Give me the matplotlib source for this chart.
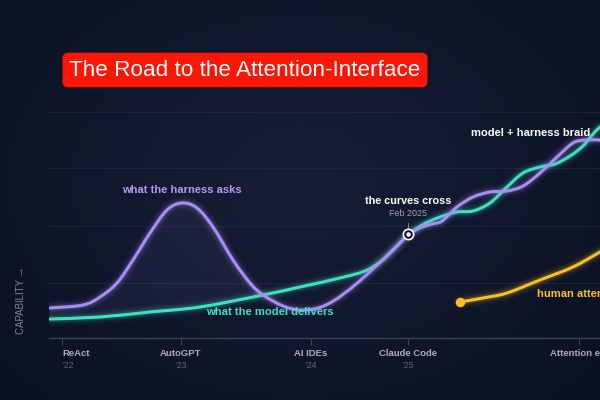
import numpy as np
import matplotlib
matplotlib.use("Agg")
import matplotlib.pyplot as plt
from matplotlib.path import Path
from matplotlib.patches import PathPatch

plt.rcParams['font.family'] = ['Liberation Sans', 'DejaVu Sans']

# ---- data (timeline position, capability) ----
model_t = [50, 100, 150, 200, 263, 300, 340, 365, 380, 393, 408, 424, 440, 457, 473,
           490, 507, 523, 540, 555, 570, 583, 593, 600]
model_cap = [19, 21, 26, 31, 43, 51, 60, 67, 76, 88, 103, 114, 121, 126, 127,
             135, 151, 165, 171, 174, 182, 192, 204, 211]

harness_t = [50, 83, 100, 117, 133, 150, 167, 182, 197, 213, 233, 250, 263, 283, 300,
             318, 335, 355, 375, 392, 408, 420, 432, 442, 457, 473, 490, 507, 523, 540,
             557, 573, 585, 600]
harness_cap = [30, 33, 41, 55, 78, 105, 128, 135, 130, 111, 78, 55, 43, 32, 28,
               30, 38, 53, 71, 87, 103, 110, 114, 117, 131, 141, 146, 147, 152, 165,
               181, 195, 198, 198]

attention_t = [460, 483, 507, 540, 573, 600]
attention_cap = [36, 40, 45, 58, 71, 86]

tick_pos = [62, 181, 311, 408, 579]
tick_names = ["ReAct", "AutoGPT", "AI IDEs", "Claude Code", "Attention era"]
tick_years = ["'22", "'23", "'24", "'25", ""]

cross_t, cross_cap = 408, 104

BG = "#0f1629"
TEAL = "#3fe0c2"
PURPLE = "#a98cf6"
YELLOW = "#fbbf24"

fig = plt.figure(figsize=(6, 4), dpi=100)
fig.patch.set_facecolor(BG)

# vignette background
bg = fig.add_axes([0, 0, 1, 1])
yy, xx = np.mgrid[0:200, 0:300]
r = np.sqrt(((xx - 150) / 150) ** 2 + ((yy - 90) / 110) ** 2)
c0 = np.array([0x16, 0x1e, 0x36]) / 255
c1 = np.array([0x0b, 0x11, 0x22]) / 255
w = np.clip(r / 1.4, 0, 1)[..., None]
bg.imshow(c0 * (1 - w) + c1 * w, aspect='auto', extent=[0, 1, 0, 1])
bg.axis('off')

ax = fig.add_axes([49 / 600, 62 / 400, 551 / 600, 338 / 400])
ax.set_facecolor('none')
ax.set_xlim(49, 600)
ax.set_ylim(0, 338)

# grid
for gy in [55, 112, 170, 226]:
    ax.axhline(gy, color="#1f2840", lw=0.6, zorder=0)


def smooth_path(xs, ys):
    """Catmull-Rom curve through the points, drawn as cubic Bezier segments."""
    P = np.column_stack([xs, ys]).astype(float)
    n = len(P)
    verts = [P[0]]
    codes = [Path.MOVETO]
    for i in range(n - 1):
        p0 = P[i - 1] if i > 0 else P[i]
        p1 = P[i]
        p2 = P[i + 1]
        p3 = P[i + 2] if i + 2 < n else P[i + 1]
        c1 = p1 + (p2 - p0) / 6.0
        c2 = p2 - (p3 - p1) / 6.0
        verts += [c1, c2, p2]
        codes += [Path.CURVE4] * 3
    return Path(verts, codes)


def glow(x, y, color, lw=2.2, z=3):
    path = smooth_path(x, y)
    for k, a in [(10, 0.04), (7, 0.08), (4.5, 0.15)]:
        ax.add_patch(PathPatch(path, fill=False, edgecolor=color, lw=k, alpha=a,
                               capstyle='round', joinstyle='round', zorder=z))
    ax.add_patch(PathPatch(path, fill=False, edgecolor=color, lw=lw,
                           capstyle='round', joinstyle='round', zorder=z + 0.5))


# faint fill under the harness bump
ht = np.array(harness_t, float)
hc = np.array(harness_cap, float)
mc_on_h = np.interp(ht, model_t, model_cap)
mask = ht <= 263
ax.fill_between(ht[mask], mc_on_h[mask], hc[mask], color=PURPLE, alpha=0.07, lw=0, zorder=1)

glow(model_t, model_cap, TEAL, z=3)
glow(harness_t, harness_cap, PURPLE, z=4)
glow(attention_t, attention_cap, YELLOW, z=3)
ax.scatter([attention_t[0]], [attention_cap[0]], s=34, color=YELLOW, zorder=6)

# cross marker
ax.plot([cross_t, cross_t], [cross_cap + 6, cross_cap + 11], color="#8a92a6", lw=0.6, zorder=6)
ax.scatter([cross_t], [cross_cap], s=55, facecolor=BG, edgecolor="white", linewidth=1.2, zorder=7)
ax.scatter([cross_t], [cross_cap], s=5, color="white", zorder=8)

# labels
ax.text(182, 148, "what the harness asks", color="#b39bf7", fontsize=8, fontweight='bold',
        ha='center', va='center', zorder=9)
ax.text(270, 26, "what the model delivers", color=TEAL, fontsize=8.1, fontweight='bold',
        ha='center', va='center', zorder=9)
ax.text(408, 137, "the curves cross", color="white", fontsize=7.8, fontweight='bold',
        ha='center', va='center', zorder=9)
ax.text(408, 125, "Feb 2025", color="#9aa1b2", fontsize=6.5, ha='center', va='center', zorder=9)
ax.text(590, 205, "model + harness braid", color="white", fontsize=8, fontweight='bold',
        ha='right', va='center', zorder=9)
ax.text(537, 44, "human attention", color=YELLOW, fontsize=8, fontweight='bold',
        ha='left', va='center', zorder=9, clip_on=False)

# title
ax.text(245, 268, "The Road to the Attention-Interface", color="white", fontsize=16.2,
        ha='center', va='center', zorder=10,
        bbox=dict(boxstyle="round,pad=0.3,rounding_size=0.25", facecolor="#ff1505", edgecolor='none'))

# axis
for s in ['top', 'right', 'left']:
    ax.spines[s].set_visible(False)
ax.spines['bottom'].set_color("#3a4257")
ax.spines['bottom'].set_linewidth(1.0)
ax.set_yticks([])
ax.set_xticks(tick_pos)
ax.set_xticklabels([])
ax.tick_params(axis='x', length=5, width=0.8, color="#3a4257")
for i, (p, n, yr) in enumerate(zip(tick_pos, tick_names, tick_years)):
    ha = 'left' if i == 0 else 'center'
    ax.text(p, -15, n, color="#aab0bf", fontsize=6.8, fontweight='bold', ha=ha, va='center', clip_on=False)
    if yr:
        ax.text(p, -27, yr, color="#5d6579", fontsize=6.3, ha=ha, va='center', clip_on=False)

fig.text(21 / 600, 100 / 400, "CAPABILITY →", rotation=90, color="#7f8799", fontsize=7,
         ha='center', va='center')

fig.savefig("out.png", dpi=100, facecolor=BG)
